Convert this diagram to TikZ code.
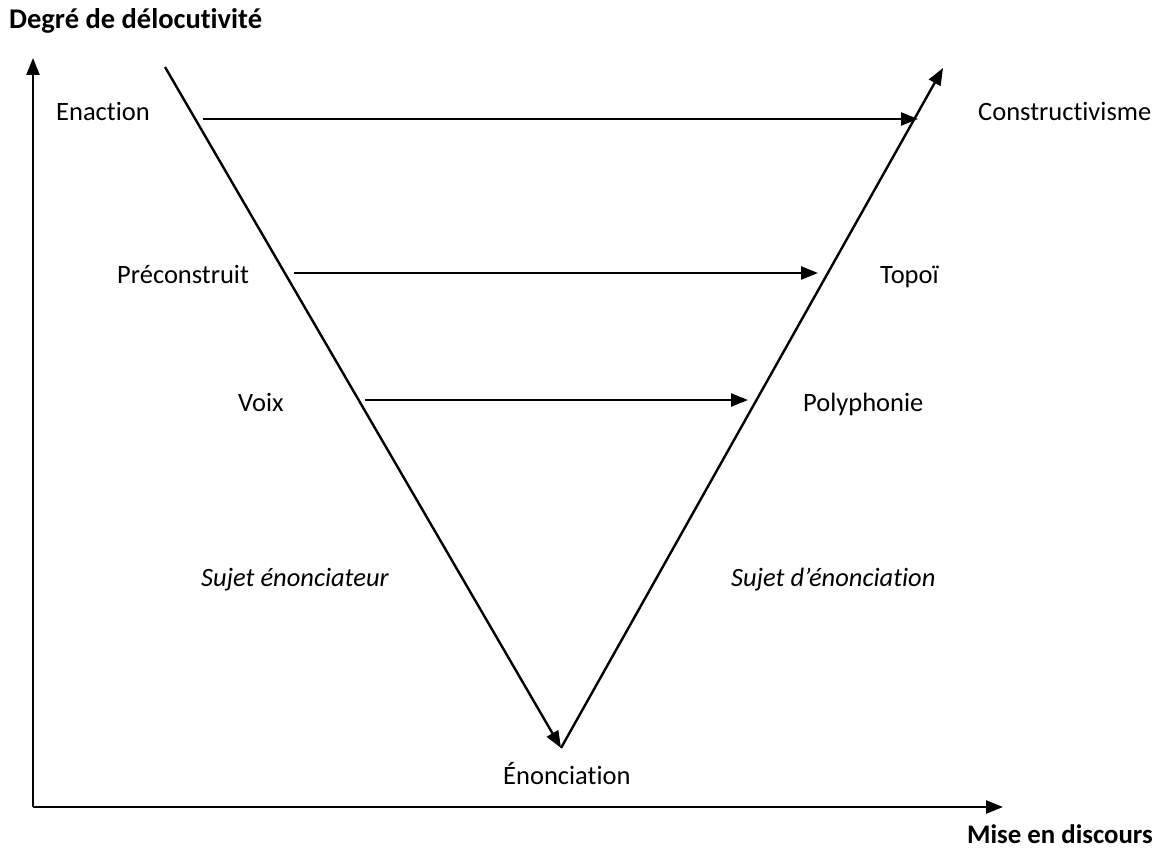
\documentclass[tikz,border=0pt]{standalone}
\usepackage{fontspec}
\setmainfont[Ligatures={NoCommon}]{Carlito}
\usetikzlibrary{arrows.meta}
\begin{document}
\begin{tikzpicture}[x=1pt,y=-1pt,
  lbl/.style={inner sep=0pt,anchor=base west,font=\fontsize{26.5}{32}\selectfont},
  bold/.style={lbl,font=\fontsize{26.8}{32}\selectfont\bfseries},
  title/.style={lbl,font=\fontsize{28.5}{34}\selectfont\bfseries},
  ital/.style={lbl,font=\fontsize{26.5}{32}\selectfont\itshape},
  arr/.style={line width=2.4pt,-{Triangle[length=17pt,width=13pt]}}]
\useasboundingbox (0,0) rectangle (1162,850);
% axes
\coordinate (O) at (33,807);
\coordinate (Ytip) at (33,58);
\coordinate (Xtip) at (1003,807);
\draw[arr] (O) -- (Ytip);
\draw[arr] (O) -- (Xtip);
% V
\coordinate (Ltop) at (165,67);
\coordinate (Vbot) at (561,748);
\coordinate (Rtop) at (943,68);
\draw[arr] (Ltop) -- (Vbot);
\draw[arr] (Vbot) -- (Rtop);
% horizontal arrows
\coordinate (e1) at (203,119);
\coordinate (e2) at (918,119);
\coordinate (p1) at (294,273);
\coordinate (p2) at (818,273);
\coordinate (v1) at (365,400);
\coordinate (v2) at (748,400);
\draw[arr] (e1) -- (e2);
\draw[arr] (p1) -- (p2);
\draw[arr] (v1) -- (v2);
% labels
\node[title] (ylab) at (9,29) {Degré de délocutivité};
\node[bold] (xlab) at (967,843) {Mise en discours};
\node[lbl] (enaction) at (56,121) {Enaction};
\node[lbl] (constr) at (978,121) {Constructivisme};
\node[lbl] (precon) at (117,284) {Préconstruit};
\node[lbl] (topoi) at (880,284) {Topoï};
\node[lbl] (voix) at (238,411) {Voix};
\node[lbl] (poly) at (803,411) {Polyphonie};
\node[ital] (sujl) at (201,586) {Sujet énonciateur};
\node[ital] (sujr) at (731,586) {Sujet d’énonciation};
\node[lbl] (enon) at (503,784) {Énonciation};
\end{tikzpicture}
\end{document}
